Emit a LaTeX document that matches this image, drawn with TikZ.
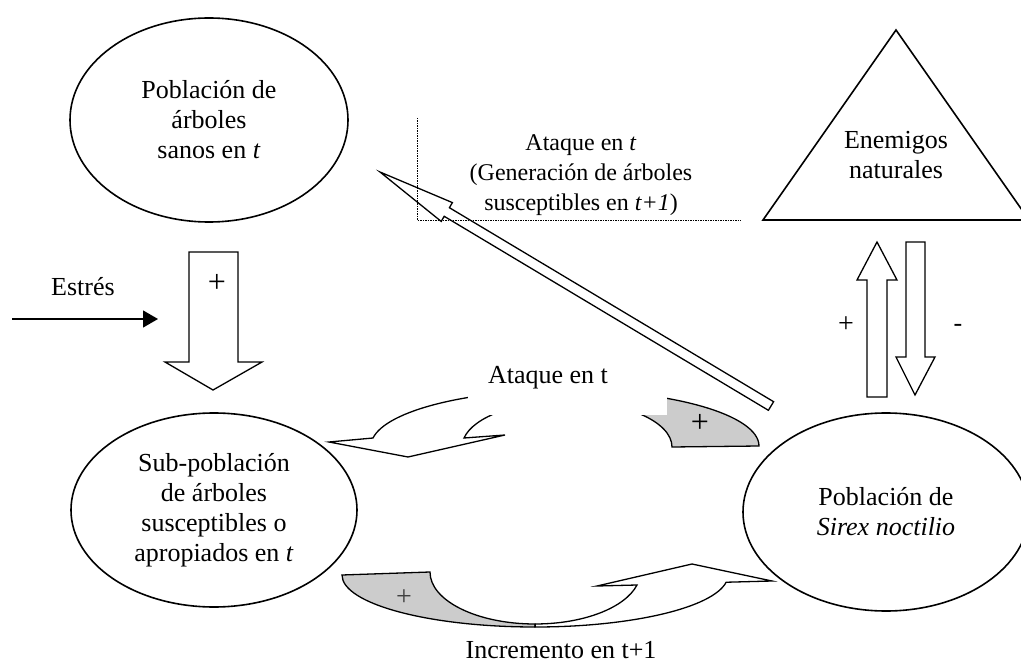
\documentclass[tikz,border=0pt]{standalone}
\usepackage{fontspec}
\setmainfont{Liberation Serif}
\usetikzlibrary{arrows.meta, shapes.geometric}
\definecolor{bandgray}{RGB}{204,204,204}
\newcommand{\figfont}{\fontsize{26}{30}\selectfont}
\newcommand{\notefont}{\fontsize{24}{30}\selectfont}

\begin{document}
\begin{tikzpicture}[x=1pt, y=-1pt,
  pop/.style={draw, ellipse, line width=1.6pt, align=center, font=\figfont, inner sep=0pt},
  blockarrow/.style={draw, fill=white, line width=1.3pt, line join=miter},
  band/.style={draw, line width=1.3pt, line join=miter},
  lbl/.style={font=\figfont, inner sep=0pt},
  signo/.style={font=\fontsize{32}{32}\selectfont, inner sep=0pt}]
  \useasboundingbox (0,0) rectangle (1021,666);
  \clip (0,0) rectangle (1021,666);

  % Poblaciones
  \node[pop, minimum width=278pt, minimum height=204pt] (sanos) at (209,120) {Población de\\árboles\\sanos en \textit{t}};
  \node[pop, minimum width=286pt, minimum height=194pt] (suscep) at (214,510) {Sub-población\\de árboles\\susceptibles o\\apropiados en \textit{t}};
  \node[pop, minimum width=286pt, minimum height=198pt] (sirex) at (886,512) {Población de\\\textit{Sirex noctilio}};

  % Enemigos naturales
  \draw[line width=1.6pt, line join=miter] (896,30) -- (1029,220) -- (763,220) -- cycle;
  \node[lbl, align=center] (enemigos) at (896,155) {Enemigos\\naturales};

  % Estres
  \coordinate (estres-in) at (12,319);
  \coordinate (estres-out) at (158,319);
  \draw[line width=1.3pt, -{Triangle[length=15pt, width=17pt]}] (estres-in) -- (estres-out);
  \node[lbl, anchor=base] (estres) at (83,295) {Estrés};

  % Flechas de bloque
  \draw[blockarrow] (189,252) -- (238,252) -- (238,362) -- (262,362) -- (213,390) -- (165,362) -- (189,362) -- cycle;
  \node[signo] (mas-estres) at (217,283) {+};
  \draw[blockarrow] (867,397) -- (867,280) -- (857,280) -- (877,242) -- (897,280) -- (887,280) -- (887,397) -- cycle;
  \draw[blockarrow] (906,242) -- (925,242) -- (925,357) -- (935,357) -- (915,395) -- (896,357) -- (906,357) -- cycle;
  \node[signo, font=\fontsize{28}{28}\selectfont] (mas-enem) at (846,325) {+};
  \node[lbl] (menos-enem) at (958,328) {-};

  % Ataque en t (arco superior)
  \draw[band, fill=bandgray] (759,446) arc[start angle=0, end angle=90, x radius=194pt, y radius=56pt]
    -- (567,401) arc[start angle=90, end angle=0, x radius=105pt, y radius=46pt] -- cycle;
  \draw[band, fill=white] (565,390) arc[start angle=90, end angle=171.8, x radius=194pt, y radius=56pt]
    -- (329,442) -- (408,457) -- (505,435) -- (464,438)
    arc[start angle=168.8, end angle=90, x radius=105pt, y radius=46pt] -- cycle;
  \node[signo] (mas-ataque) at (700,423) {+};

  % Incremento en t+1 (arco inferior)
  \draw[band, fill=bandgray] (342,575) arc[start angle=180, end angle=270, x radius=193pt, y radius=52pt]
    -- (535,624) arc[start angle=270, end angle=180, x radius=105pt, y radius=52pt] -- cycle;
  \draw[band, fill=white] (535,627) arc[start angle=270, end angle=352, x radius=193pt, y radius=52pt]
    -- (772,581) -- (692,564) -- (597,586) -- (637,585)
    arc[start angle=345.5, end angle=270, x radius=105pt, y radius=52pt] -- cycle;
  \node[signo, font=\fontsize{28}{28}\selectfont, black!75] (mas-incr) at (404,598) {+};

  \fill[white] (468,352) rectangle (667,415);
  \node[lbl, anchor=base] (ataque) at (548,383) {Ataque en t};
  \node[lbl, anchor=base] (incremento) at (561,658) {Incremento en t+1};

  % Generacion de arboles susceptibles
  \draw[blockarrow] (773.6,401.7) -- (449.4,207.7) -- (452.4,202.6) -- (380,172) -- (441.2,221.4) -- (444.2,216.3) -- (768.4,410.3) -- cycle;
  \draw[line width=0.7pt, dash pattern=on 1.5pt off 1pt] (417,118) |- (741,220);
  \node[inner sep=0pt, font=\notefont, align=center] (generacion) at (581,175) {Ataque en \textit{t}\\(Generación de árboles\\susceptibles en \textit{t+1})};
\end{tikzpicture}
\end{document}
